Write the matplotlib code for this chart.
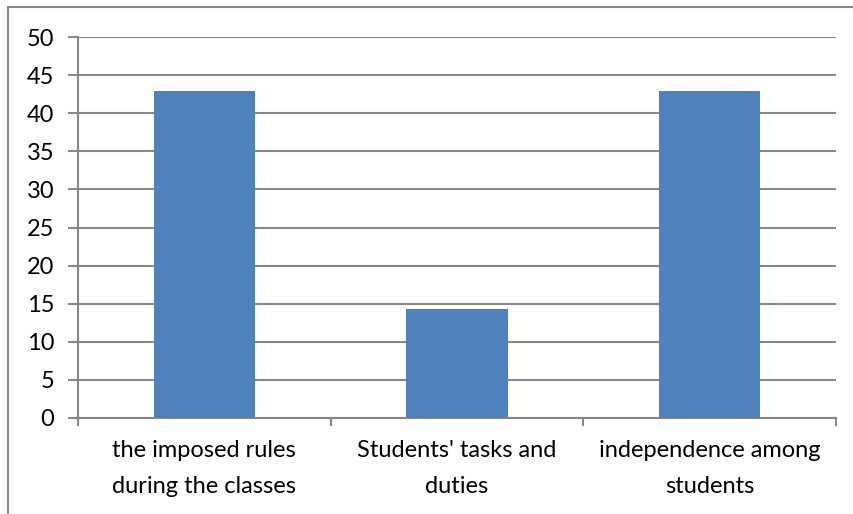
import matplotlib.pyplot as plt
from matplotlib.patches import Rectangle

categories = ["the imposed rules\nduring the classes", "Students' tasks and\nduties", "independence among\nstudents"]
values = [42.86, 14.29, 42.86]
y_ticks = list(range(0, 51, 5))

plt.rcParams["font.family"] = ["Lato", "DejaVu Sans"]

fig = plt.figure(figsize=(8.54, 5.14), dpi=100)
ax = fig.add_axes([78 / 854, 1 - 418 / 514, (836 - 78) / 854, (418 - 37) / 514])

grid_c = "#888888"
x = list(range(len(categories)))
ax.bar(x, values, width=0.4, color="#4F81BD", zorder=3)

ax.set_xlim(-0.5, len(categories) - 0.5)
ax.set_ylim(0, 50)
ax.set_yticks(y_ticks)
ax.yaxis.grid(True, color=grid_c, linewidth=1.5, zorder=0)

ax.set_xticks(x)
ax.set_xticklabels(categories, fontsize=17, linespacing=1.85)
ax.set_xticks([i - 0.5 for i in range(len(categories) + 1)], minor=True)
ax.tick_params(axis="x", which="major", length=0, pad=16)
ax.tick_params(axis="x", which="minor", length=6, width=1.5, color=grid_c)
ax.tick_params(axis="y", length=7, width=1.5, color=grid_c, labelsize=17, pad=10)

for side in ["top", "right"]:
    ax.spines[side].set_visible(False)
for side in ["left", "bottom"]:
    ax.spines[side].set_color(grid_c)
    ax.spines[side].set_linewidth(1.5)

# outer chart border
fig.patches.append(Rectangle((8 / 854, -0.1), 1.2, 1 - 7 / 514 + 0.1, transform=fig.transFigure,
                             fill=False, edgecolor="#888888", linewidth=1.5))

fig.savefig("out.png", dpi=100)
